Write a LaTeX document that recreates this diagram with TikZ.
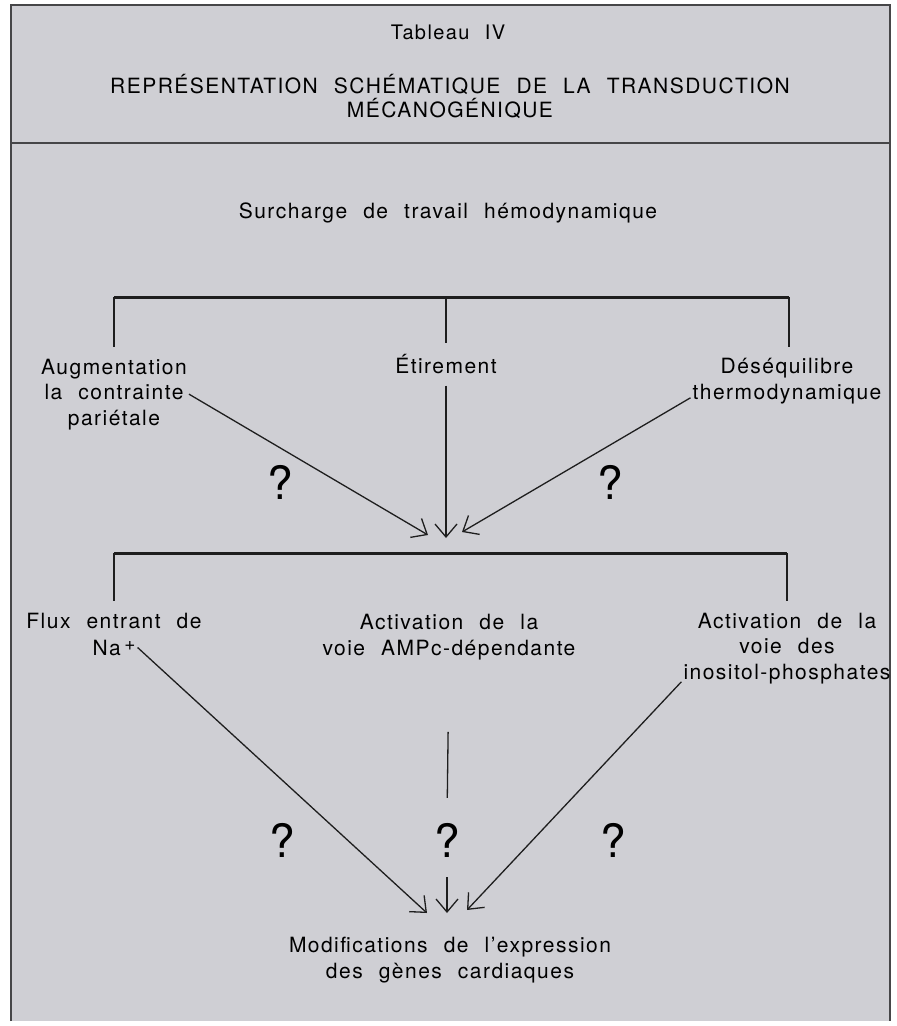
\documentclass[tikz,border=0pt]{standalone}
\usepackage{fontspec}
\setmainfont{TeX Gyre Heros}[LetterSpace=7,WordSpace=2.2]
\usetikzlibrary{arrows.meta}
\definecolor{fond}{RGB}{207,207,212}
\definecolor{trait}{RGB}{30,30,30}
\definecolor{cadre}{RGB}{70,70,72}

\begin{document}
\begin{tikzpicture}[x=1pt,y=-1pt,
  txt/.style={anchor=base,align=center,inner sep=2pt,font=\fontsize{21}{25.5}\selectfont},
  qm/.style={inner sep=2pt,font=\fontsize{46}{46}\selectfont},
  barre/.style={line width=3pt,color=trait},
  fil/.style={line width=1.3pt,color=trait},
  fl/.style={fil,-{Straight Barb[length=13pt,width=22pt]}}]
  \def\W{897}
  \def\H{1026}

  \useasboundingbox (0,0) rectangle (\W,\H);
%fond et cadre:
  \fill[white] (0,0) rectangle (\W,\H);
  \fill[fond] (11,5) rectangle (890,1021);
  \draw[line width=2pt,color=cadre] (11,1021) -- (11,5) -- (890,5) -- (890,1021);
  \draw[line width=1.8pt,color=cadre] (11,143) -- (890,143);

%en-tete (base = derniere ligne):
  \node[txt,font=\fontsize{20}{24}\selectfont] (tab) at (448,39) {Tableau IV};
  \node[txt,font=\fontsize{21}{24}\selectfont] (titre) at (450,117) {REPRÉSENTATION SCHÉMATIQUE DE LA TRANSDUCTION\\MÉCANOGÉNIQUE};

%premier niveau:
  \node[txt] (surch) at (448,218) {Surcharge de travail hémodynamique};
  \node[txt] (aug) at (114,425) {Augmentation\\la contrainte\\pariétale};
  \node[txt] (etir) at (446,373) {Étirement};
  \node[txt] (deseq) at (787,399) {Déséquilibre\\thermodynamique};

  \coordinate (b1g) at (114,297);
  \coordinate (b1m) at (446,297);
  \coordinate (b1d) at (789,297);
  \draw[barre] (b1g) -- (b1d);
  \draw[fil,shorten >=9pt] (b1g) -- (b1g |- aug.north);
  \draw[fil,shorten >=9pt] (b1m) -- (b1m |- etir.north);
  \draw[fil,shorten >=9pt] (b1d) -- (b1d |- deseq.north);

  \coordinate (p1) at (428,535);
  \coordinate (p2) at (446,538);
  \coordinate (p3) at (462,532);
  \draw[fl] (aug.east) -- (p1);
  \draw[fl,shorten <=10pt] (etir.south) -- (p2);
  \draw[fl] ([yshift=8pt]deseq.south west) -- (p3);
  \node[qm] (q1) at (280,482) {?};
  \node[qm] (q2) at (610,482) {?};

%second niveau:
  \coordinate (b2g) at (114,553);
  \coordinate (b2d) at (787,553);
  \draw[barre] (b2g) -- (b2d);

  \node[txt] (flux) at (114,628) {Flux entrant de};
  \node[txt] (na) at (114,655) {Na\,\raisebox{5pt}{\fontsize{19}{19}\selectfont +}};
  \node[txt] (act1) at (449,655) {Activation de la\\voie AMPc-dépendante};
  \node[txt] (act2) at (787,679) {Activation de la\\voie des\\inositol-phosphates};
  \draw[fil,shorten >=9pt] (b2g) -- (b2g |- flux.north);
  \draw[fil,shorten >=9pt] (b2d) -- (b2d |- act2.north);

  \node[qm] (q3) at (282,840) {?};
  \node[qm] (q4) at (447,840) {?};
  \node[qm] (q5) at (613,840) {?};

  \coordinate (p4) at (427,913);
  \coordinate (p5) at (447,913);
  \coordinate (p6) at (467,910);
  \draw[fl] (na.east) -- (p4);
  \draw[fil,shorten <=70pt,shorten >=23pt] (act1.south) -- (q4.north);
  \draw[fl,shorten <=18pt] (q4.south) -- (p5);
  \draw[fl] ([yshift=4pt]act2.south west) -- (p6);

  \node[txt] (modif) at (450,978) {Modifications de l’expression\\des gènes cardiaques};
\end{tikzpicture}
\end{document}
